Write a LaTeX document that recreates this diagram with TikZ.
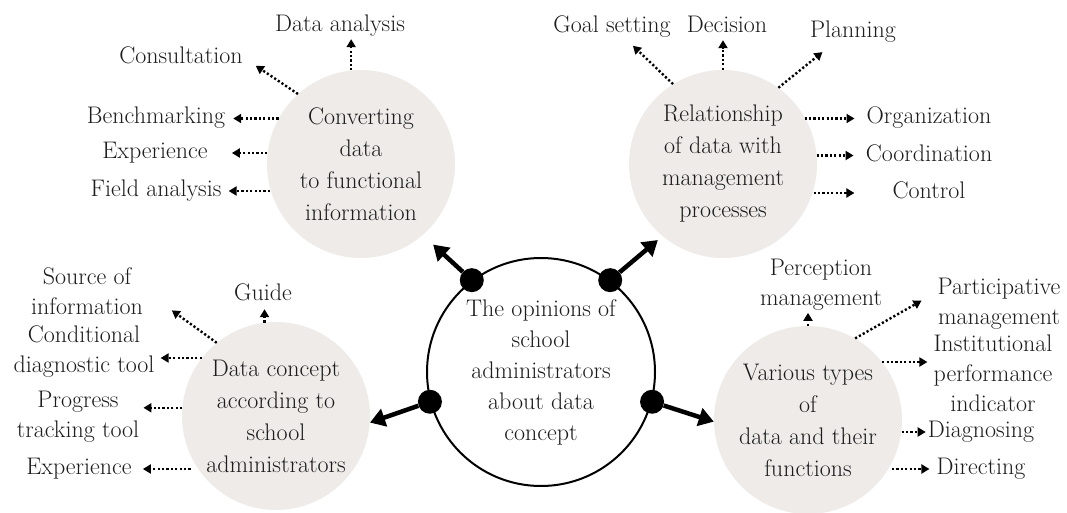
\documentclass[tikz,border=0pt]{standalone}
\usepackage{fontspec}
\usepackage{xcolor}
\usepackage{tikz}
\usetikzlibrary{arrows.meta}

\definecolor{bubble}{HTML}{EEEBE9}
\definecolor{ink}{HTML}{1C1C1C}

\begin{document}
\begin{tikzpicture}[x=1pt, y=-1pt,
    every node/.style={align=center, text=ink, font=\fontsize{24}{30}\selectfont},
    topic/.style={circle, fill=bubble, minimum size=188pt, inner sep=0pt, font=\fontsize{24}{32}\selectfont},
    pin/.style={circle, fill=black, minimum size=24pt, inner sep=0pt},
    word/.style={inner sep=2pt},
    oneword/.style={inner sep=2pt, text height=16pt, text depth=5pt},
    dots/.style={-{Triangle[length=8pt,width=9pt]}, line width=2.4pt, dash pattern=on 2.2pt off 2.2pt},
    bigarrow/.style={-{Triangle[length=15pt,width=18pt]}, line width=4.5pt}]
                \useasboundingbox (0,0) rectangle (1067,513);

                \node[topic] (conv) at (361,164) {Converting\\data\\to functional\\information};
                \node[topic] (rel) at (723,164) {Relationship\\of data with\\management\\processes};
                \node[topic] (datac) at (276,416) {Data concept\\according to\\school\\administrators};
                \node[topic] (vart) at (808,420) {Various types\\of\\data and their\\functions};

                \node[circle, draw, line width=2pt, fill=white, minimum size=228pt, inner sep=0pt,
                      font=\fontsize{24}{31}\selectfont] (hub) at (541,372) {
                    The opinions of\\school\\administrators\\about data\\concept
                };

                \node[pin] (pconv) at (hub.127) {};
                \node[pin] (prel) at (hub.53) {};
                \node[pin] (pdata) at (hub.195) {};
                \node[pin] (pvar) at (hub.-15) {};

                \draw[bigarrow, shorten >=14pt] (pconv) -- (conv.-49);
                \draw[bigarrow, shorten >=6pt] (prel) -- (rel.230);
                \draw[bigarrow] (pdata) -- (datac.-4);
                \draw[bigarrow] (pvar) -- (vart.181);

                \node[oneword] (dana) at (340,26.5) {Data analysis};
                \node[oneword] (consult) at (181,58.5) {Consultation};
                \node[oneword] (bench) at (156,118.5) {Benchmarking};
                \node[oneword] (expA) at (155,153) {Experience};
                \node[oneword] (field) at (156,191) {Field analysis};

                \draw[dots] (conv.96) -- (conv.96 |- dana.south);
                \draw[dots, shorten >=13pt] (conv.132) -- (consult.east);
                \draw[dots, shorten >=6pt] (bench -| conv.151) -- (bench);
                \draw[dots, shorten >=22pt] (expA -| conv.174) -- (expA);
                \draw[dots, shorten >=5pt] (field -| conv.195) -- (field);

                \node[oneword] (goal) at (612,27.5) {Goal setting};
                \node[oneword] (dec) at (727,27.5) {Decision};
                \node[oneword] (plan) at (853,32.5) {Planning};
                \node[oneword] (org) at (929,118.5) {Organization};
                \node[oneword] (coord) at (929,155.5) {Coordination};
                \node[oneword] (ctrl) at (929,193) {Control};

                \draw[dots, shorten >=8pt] (rel.122) -- (goal.-40);
                \draw[dots] (rel.north) -- (rel.north |- dec.south);
                \draw[dots, shorten >=11pt] (rel.54) -- (plan.-150);
                \draw[dots, shorten >=10pt] (org -| rel.30) -- (org);
                \draw[dots, shorten >=10pt] (coord -| rel.6) -- (coord);
                \draw[dots, shorten >=36pt] (ctrl -| rel.-16) -- (ctrl);

                \node[word] (src) at (87,291) {Source of\\information};
                \node[oneword] (guide) at (263,294.5) {Guide};
                \node[word] (cond) at (84,352) {Conditional\\diagnostic tool};
                \node[word] (prog) at (78,417) {Progress\\tracking tool};
                \node[oneword] (expB) at (79,469) {Experience};

                \draw[dots, shorten >=2pt] (datac.97) -- (datac.97 |- guide.south);
                \draw[dots, shorten >=33pt] (datac.129) -- (src.east);
                \draw[dots, shorten >=4pt] (datac.142) -- (datac.142 -| cond.east);
                \draw[dots, shorten >=2pt] (datac.175) -- (datac.175 -| prog.east);
                \draw[dots, shorten >=9pt] (expB -| datac.205) -- (expB);

                \node[word] (perc) at (821,285) {Perception\\management};
                \node[word] (part) at (999,304) {Participative\\management};
                \node[word] (inst) at (993,373) {Institutional\\performance\\indicator};
                \node[oneword] (diag) at (981,432) {Diagnosing};
                \node[oneword] (dir) at (981,469) {Directing};

                \draw[dots] (vart.north) -- (vart.north |- perc.south);
                \draw[dots, shorten >=16pt] (vart.60) -- (part.170);
                \draw[dots, shorten >=4pt] (vart.38) -- (vart.38 -| inst.west);
                \draw[dots] (diag -| vart.-6) -- (diag);
                \draw[dots, shorten >=5pt] (dir -| vart.-27) -- (dir);
            \end{tikzpicture}
\end{document}
